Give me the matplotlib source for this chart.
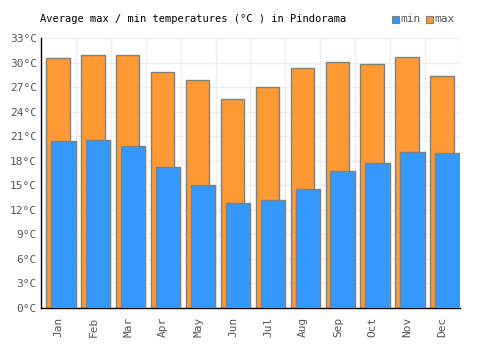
import numpy as np
import matplotlib.pyplot as plt

months = ['Jan', 'Feb', 'Mar', 'Apr', 'May', 'Jun', 'Jul', 'Aug', 'Sep', 'Oct', 'Nov', 'Dec']
t_max = [30.6, 31.0, 30.9, 28.9, 27.9, 25.5, 27.0, 29.4, 30.1, 29.8, 30.7, 28.4]
t_min = [20.4, 20.5, 19.8, 17.2, 15.1, 12.8, 13.2, 14.6, 16.7, 17.7, 19.1, 18.9]
yticks = np.arange(0, 34, 3)

fig = plt.figure(figsize=(5, 3.5), dpi=100)
ax = fig.add_axes([0.082, 0.12, 0.838, 0.771])

x = np.arange(len(months))
ax.bar(x - 0.35, t_max, width=0.67, align='edge', color='#ff9933',
       edgecolor='#808080', linewidth=1, zorder=2)
ax.bar(x - 0.21, t_min, width=0.70, align='edge', color='#3399ff',
       edgecolor='#808080', linewidth=1, zorder=3)

ax.set_xlim(-0.5, 11.5)
ax.set_ylim(0, 33)
ax.set_yticks(yticks)
ax.set_yticklabels([f'{v}°C' for v in yticks])
ax.set_xticks(x)
ax.set_xticklabels(months, rotation=90)
ax.set_xticks(np.arange(-0.5, 12, 1), minor=True)

ax.grid(axis='y', color='#eeeeee', linewidth=1, zorder=0)
ax.grid(axis='x', which='minor', color='#eeeeee', linewidth=1, zorder=0)
ax.set_axisbelow(True)

for s in ['top', 'right']:
    ax.spines[s].set_visible(False)
for s in ['left', 'bottom']:
    ax.spines[s].set_color('black')
    ax.spines[s].set_linewidth(1)

ax.tick_params(axis='both', which='both', length=0, labelsize=8,
               labelcolor='#555555')
ax.tick_params(axis='x', pad=6)
ax.tick_params(axis='y', pad=3)
for lab in ax.get_xticklabels() + ax.get_yticklabels():
    lab.set_family('DejaVu Sans Mono')

fig.text(0.08, 0.945, 'Average max / min temperatures (°C ) in Pindorama',
         family='DejaVu Sans Mono', fontsize=7.5, color='black', va='center')

# legend
fig.patches.append(plt.Rectangle((0.784, 0.935), 0.014, 0.02, transform=fig.transFigure,
                                 facecolor='#3399ff', edgecolor='#808080', lw=0.8))
fig.text(0.8, 0.945, 'min', family='DejaVu Sans Mono', fontsize=8, color='#555555', va='center')
fig.patches.append(plt.Rectangle((0.852, 0.935), 0.014, 0.02, transform=fig.transFigure,
                                 facecolor='#ff9933', edgecolor='#808080', lw=0.8))
fig.text(0.868, 0.945, 'max', family='DejaVu Sans Mono', fontsize=8, color='#555555', va='center')

plt.savefig('out.png')
